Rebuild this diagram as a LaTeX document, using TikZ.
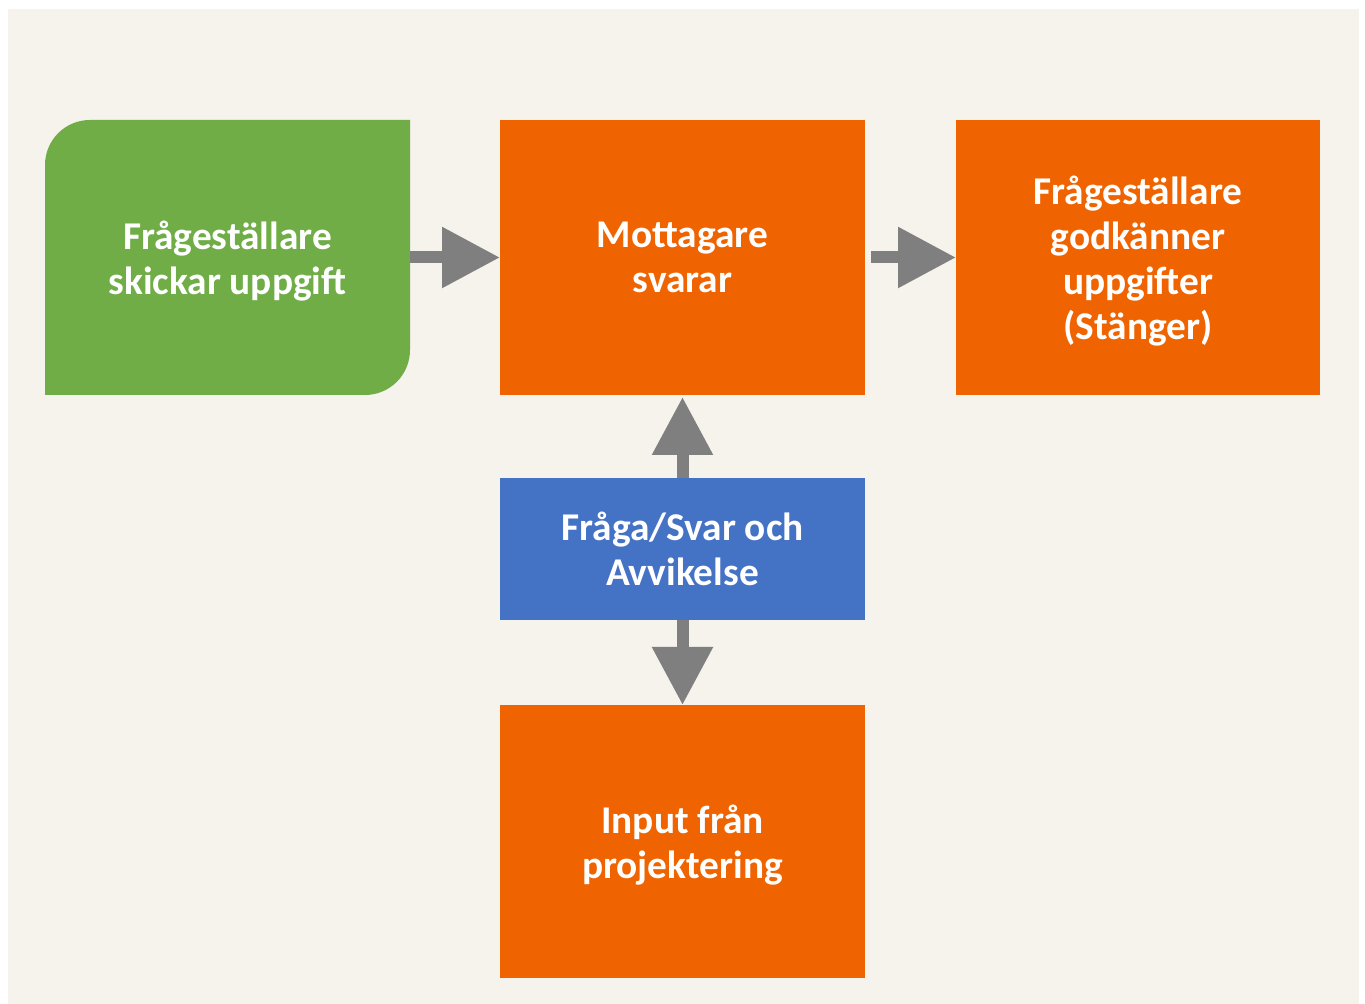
\documentclass[tikz,border=0pt]{standalone}
\usepackage{fontspec}
\setmainfont{Carlito}
\usetikzlibrary{arrows.meta,backgrounds}
\definecolor{bgbeige}{HTML}{F6F2EC}
\definecolor{boxorange}{HTML}{EF6400}
\definecolor{boxgreen}{HTML}{70AD47}
\definecolor{boxblue}{HTML}{4472C4}
\definecolor{arrowgray}{HTML}{7F7F7F}
\tikzset{
  box/.style={rectangle, inner sep=0pt, outer sep=0pt, align=center, text=white,
    minimum width=273.75pt, font=\bfseries\fontsize{29.5}{33.75}\selectfont,
    text depth=0pt},
  orangebox/.style={box, fill=boxorange},
  blockarrow/.style={draw=arrowgray, line width=9pt, -{Triangle[length=43.5pt,width=43.5pt]}}
}
\newcommand{\lowered}[1]{\raisebox{-2.2pt}{\begin{tabular}{@{}c@{}}#1\end{tabular}}}
\begin{document}
\begin{tikzpicture}[x=0.75pt,y=0.75pt]
\useasboundingbox (0,0) rectangle (1365,1004);
\node[box, minimum height=206.25pt] (g) at (227.5,746.5) {Frågeställare\\skickar uppgift};
\node[orangebox, minimum height=206.25pt] (m) at (682.5,746.5) {Mottagare\\svarar};
\node[orangebox, minimum height=206.25pt, minimum width=273pt] (a) at (1138,746.5) {Frågeställare\\godkänner\\uppgifter\\(Stänger)};
\node[box, fill=boxblue, minimum height=106.5pt] (q) at (682.5,455) {Fråga/Svar och\\Avvikelse};
\node[orangebox, minimum height=204.75pt] (i) at (682.5,162.5) {Input från\\projektering};
\begin{scope}[on background layer]
\fill[white] (0,0) rectangle (1365,1004);
\fill[bgbeige] (8,0) rectangle (1359,995);
\fill[boxgreen] (g.south west) -- ([yshift=-33.75pt]g.north west)
  arc[start angle=180,end angle=90,radius=33.75pt] -- (g.north east)
  -- ([yshift=33.75pt]g.south east)
  arc[start angle=0,end angle=-90,radius=33.75pt] -- cycle;
\end{scope}
\draw[blockarrow] (g.east) -- (m.west);
\draw[blockarrow, shorten <=4.5pt] (m.east) -- (a.west);
\draw[blockarrow, shorten >=1.5pt] (q.north) -- (m.south);
\draw[blockarrow] (q.south) -- (i.north);
\end{tikzpicture}
\end{document}
